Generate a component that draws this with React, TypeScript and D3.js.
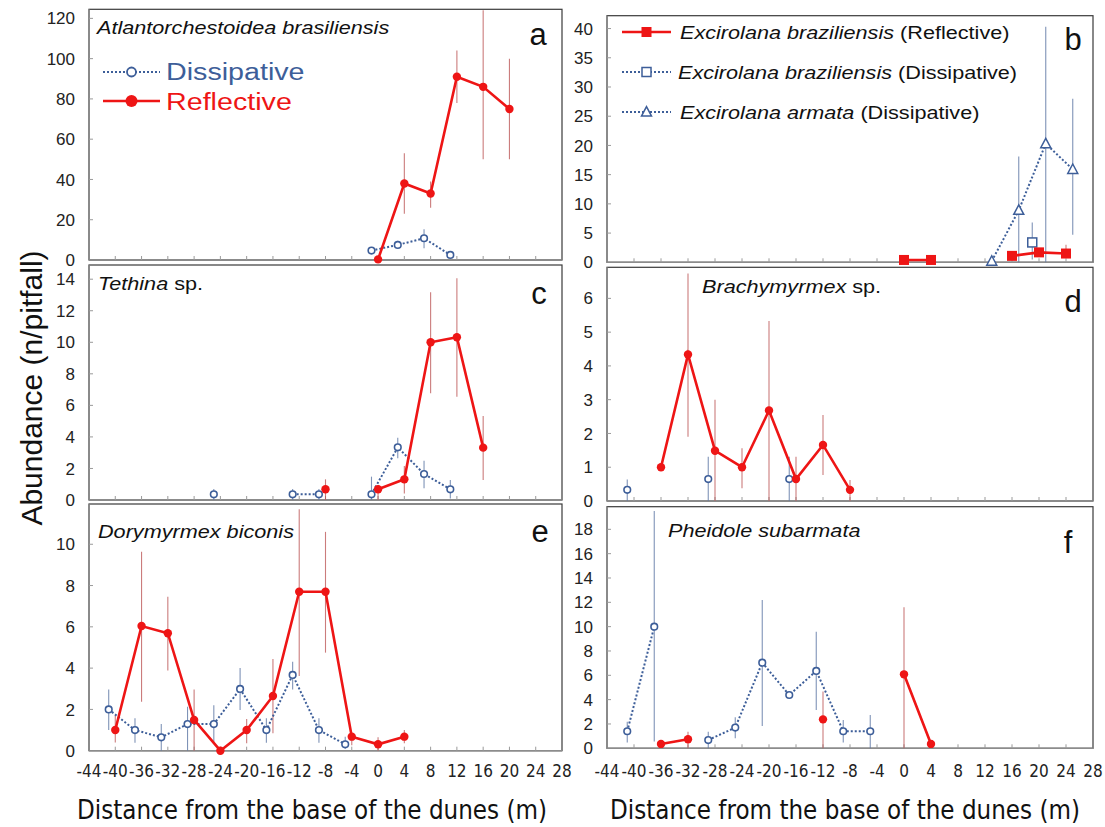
import React from 'react';
import * as d3 from 'd3';

// ---------- shared ----------
const X_TICKS = d3.range(-44, 29, 4);
const X_TITLE = 'Distance from the base of the dunes (m)';
const Y_TITLE = 'Abundance (n/pitfall)';

// ---------- panel a: Atlantorchestoidea brasiliensis ----------
const aReflX = [0, 4, 8, 12, 16, 20];
const aReflY = [0.3, 38, 33, 91, 86, 75];
const aReflHi = [0.3, 53, 39, 104, 124, 100];
const aReflLo = [0.3, 23, 26, 78, 50, 50];
const aDissX = [-1, 3, 7, 11];
const aDissY = [4.7, 7.5, 10.8, 2.5];
const aDissHi = [5.5, 9.5, 15.3, 3.5];
const aDissLo = [4.0, 5.5, 5.8, 1.5];

// ---------- panel b: Excirolana ----------
const bReflX = [0, 4, 8, 12, 16, 20, 24];
const bReflY = [0.4, 0.4, null, null, 1.1, 1.7, 1.5];
const bReflHi = [0.4, 0.4, null, null, 1.6, 2.4, 3.0];
const bReflLo = [0.4, 0.4, null, null, 1.1, 1.7, 1.5];
const bBrazDissX = [19];
const bBrazDissY = [3.4];
const bBrazDissHi = [6.8];
const bBrazDissLo = [0.5];
const bArmDissX = [13, 17, 21, 25];
const bArmDissY = [0.2, 8.9, 20.3, 15.9];
const bArmDissHi = [0.2, 18.1, 40.3, 28];
const bArmDissLo = [0.2, 0, 0, 4.7];

// ---------- panel c: Tethina sp. ----------
const cReflX = [-8, -4, 0, 4, 8, 12, 16];
const cReflY = [0.68, null, 0.68, 1.31, 10.0, 10.32, 3.32];
const cReflHi = [1.31, null, 0.95, 2.16, 13.17, 14.06, 5.33];
const cReflLo = [0, null, 0, 0.42, 6.77, 6.55, 1.27];
const cDissX = [-25, -21, -17, -13, -9, -5, -1, 3, 7, 11];
const cDissY = [0.36, null, null, 0.36, 0.36, null, 0.36, 3.34, 1.65, 0.68];
const cDissHi = [0.7, null, null, 0.7, 0.7, null, 1.48, 3.95, 2.49, 1.27];
const cDissLo = [0, null, null, 0, 0, null, 0, 2.64, 0.74, 0.1];

// ---------- panel d: Brachymyrmex sp. ----------
const dReflX = [-36, -32, -28, -24, -20, -16, -12, -8];
const dReflY = [1.0, 4.34, 1.49, 1.0, 2.68, 0.65, 1.66, 0.33];
const dReflHi = [1.0, 6.74, 3.0, 1.56, 5.33, 1.31, 2.55, 0.62];
const dReflLo = [1.0, 1.9, 0, 0.38, 0, 0, 0.77, 0];
const dDissX = [-41, -37, -33, -29, -25, -21, -17];
const dDissY = [0.33, null, null, 0.65, null, null, 0.65];
const dDissHi = [0.64, null, null, 1.31, null, null, 1.31];
const dDissLo = [0, null, null, 0, null, null, 0];

// ---------- panel e: Dorymyrmex biconis ----------
const eReflX = [-40, -36, -32, -28, -24, -20, -16, -12, -8, -4, 0, 4];
const eReflY = [1.0, 6.04, 5.69, 1.49, 0.0, 1.0, 2.65, 7.7, 7.7, 0.68, 0.31, 0.68];
const eReflHi = [1.7, 9.64, 7.46, 2.97, 0, 1.53, 4.44, 11.7, 10.6, 0.84, 0.65, 1.0];
const eReflLo = [0.4, 2.37, 3.88, 0, 0, 0.36, 0.84, 3.62, 4.75, 0.27, 0, 0.36];
const eDissX = [-41, -37, -33, -29, -25, -21, -17, -13, -9, -5];
const eDissY = [2.0, 1.0, 0.65, 1.29, 1.29, 2.99, 1.0, 3.67, 1.0, 0.31];
const eDissHi = [2.97, 1.57, 1.29, 2.13, 2.2, 4.0, 1.57, 4.31, 1.57, 0.68];
const eDissLo = [1.0, 0.39, 0, 0, 0.36, 1.97, 0.39, 2.97, 0.39, 0.1];

// ---------- panel f: Pheidole subarmata ----------
const fReflX = [-36, -32, -28, -24, -20, -16, -12, -8, -4, 0, 4];
const fReflY = [0.36, 0.74, null, null, null, null, 2.38, null, null, 6.08, 0.36];
const fReflHi = [0.36, 1.37, null, null, null, null, 4.66, null, null, 11.59, 0.36];
const fReflLo = [0.36, 0, null, null, null, null, 0, null, null, 0, 0.36];
const fDissX = [-41, -37, -33, -29, -25, -21, -17, -13, -9, -5];
const fDissY = [1.4, 10.0, null, 0.68, 1.7, 7.04, 4.38, 6.36, 1.4, 1.4];
const fDissHi = [2.19, 19.5, null, 1.37, 2.55, 12.2, 4.38, 9.59, 2.33, 2.74];
const fDissLo = [0.47, 0.55, null, 0, 0.82, 1.84, 4.38, 3.15, 0.47, 0];

// ---------- styling ----------
const RED = '#ee1515';
const RED_ERR = 'rgba(185,80,80,0.75)';
const BLUE = '#3d5e99';
const BLUE_ERR = 'rgba(95,120,165,0.8)';
const FONT = '"Liberation Sans", Arial, sans-serif';
const NARROW = '"Liberation Sans Narrow", "Arial Narrow", "DejaVu Sans Condensed", sans-serif';
const SX = 1.17; // horizontal stretch of the in-panel texts

type Kind = 'refl' | 'diss' | 'reflSq' | 'dissSq' | 'dissTri';
type Series = { kind: Kind; x: number[]; y: (number | null)[]; hi: (number | null)[]; lo: (number | null)[] };
type Title = { parts: { t: string; it: boolean }[]; x: number; y: number };
type PanelCfg = {
  x0: number; x1: number; top: number; bottom: number; ymax: number; yTicks: number[];
  letter: string; lx: number; ly: number; title: Title; series: Series[]; xLabels: boolean;
};

const LEFT = { x0: 89, x1: 562 };
const RIGHT = { x0: 607, x1: 1093 };

const panels: PanelCfg[] = [
  {
    ...LEFT, top: 9.3, bottom: 260, ymax: 124.5, yTicks: d3.range(0, 121, 20),
    letter: 'a', lx: 538, ly: 45,
    title: { parts: [{ t: 'Atlantorchestoidea brasiliensis', it: true }], x: 97, y: 34 },
    series: [
      { kind: 'diss', x: aDissX, y: aDissY, hi: aDissHi, lo: aDissLo },
      { kind: 'refl', x: aReflX, y: aReflY, hi: aReflHi, lo: aReflLo },
    ], xLabels: false,
  },
  {
    ...RIGHT, top: 15.7, bottom: 262.3, ymax: 42.2, yTicks: d3.range(0, 41, 5),
    letter: 'b', lx: 1073, ly: 50,
    title: { parts: [], x: 0, y: 0 },
    series: [
      { kind: 'dissTri', x: bArmDissX, y: bArmDissY, hi: bArmDissHi, lo: bArmDissLo },
      { kind: 'dissSq', x: bBrazDissX, y: bBrazDissY, hi: bBrazDissHi, lo: bBrazDissLo },
      { kind: 'reflSq', x: bReflX, y: bReflY, hi: bReflHi, lo: bReflLo },
    ], xLabels: false,
  },
  {
    ...LEFT, top: 265, bottom: 500, ymax: 14.9, yTicks: d3.range(0, 15, 2),
    letter: 'c', lx: 539, ly: 304,
    title: { parts: [{ t: 'Tethina', it: true }, { t: ' sp.', it: false }], x: 98, y: 290 },
    series: [
      { kind: 'diss', x: cDissX, y: cDissY, hi: cDissHi, lo: cDissLo },
      { kind: 'refl', x: cReflX, y: cReflY, hi: cReflHi, lo: cReflLo },
    ], xLabels: false,
  },
  {
    ...RIGHT, top: 267.3, bottom: 501, ymax: 6.92, yTicks: d3.range(0, 7, 1),
    letter: 'd', lx: 1073, ly: 312,
    title: { parts: [{ t: 'Brachymyrmex', it: true }, { t: ' sp.', it: false }], x: 702, y: 293 },
    series: [
      { kind: 'diss', x: dDissX, y: dDissY, hi: dDissHi, lo: dDissLo },
      { kind: 'refl', x: dReflX, y: dReflY, hi: dReflHi, lo: dReflLo },
    ], xLabels: false,
  },
  {
    ...LEFT, top: 504, bottom: 750.7, ymax: 11.95, yTicks: d3.range(0, 11, 2),
    letter: 'e', lx: 540, ly: 542,
    title: { parts: [{ t: 'Dorymyrmex biconis', it: true }], x: 98, y: 538 },
    series: [
      { kind: 'diss', x: eDissX, y: eDissY, hi: eDissHi, lo: eDissLo },
      { kind: 'refl', x: eReflX, y: eReflY, hi: eReflHi, lo: eReflLo },
    ], xLabels: true,
  },
  {
    ...RIGHT, top: 506.7, bottom: 748.3, ymax: 19.86, yTicks: d3.range(0, 19, 2),
    letter: 'f', lx: 1068, ly: 553,
    title: { parts: [{ t: 'Pheidole subarmata', it: true }], x: 668, y: 537 },
    series: [
      { kind: 'diss', x: fDissX, y: fDissY, hi: fDissHi, lo: fDissLo },
      { kind: 'refl', x: fReflX, y: fReflY, hi: fReflHi, lo: fReflLo },
    ], xLabels: true,
  },
];

const isRed = (k: Kind) => k === 'refl' || k === 'reflSq';

function Marker({ kind, cx, cy, legend }: { kind: Kind; cx: number; cy: number; legend?: boolean }) {
  if (kind === 'refl') return <circle cx={cx} cy={cy} r={legend ? 6 : 4.2} fill={RED} />;
  if (kind === 'diss') return <circle cx={cx} cy={cy} r={legend ? 4.5 : 3.3} fill="#fff" stroke={BLUE} strokeWidth={legend ? 1.8 : 1.6} />;
  if (kind === 'reflSq') { const s = 10; return <rect x={cx - s / 2} y={cy - s / 2} width={s} height={s} fill={RED} />; }
  if (kind === 'dissSq') { const s = 9; return <rect x={cx - s / 2} y={cy - s / 2} width={s} height={s} fill="#fff" stroke={BLUE} strokeWidth={1.5} />; }
  const h = 9, w = 10;
  return <path d={`M${cx},${cy - h * 0.6}L${cx + w / 2},${cy + h * 0.45}L${cx - w / 2},${cy + h * 0.45}Z`} fill="#fff" stroke={BLUE} strokeWidth={1.5} />;
}

function LegendLine({ kind, x1, x2, y }: { kind: Kind; x1: number; x2: number; y: number }) {
  const red = isRed(kind);
  return (
    <g>
      <line x1={x1} x2={x2} y1={y} y2={y} stroke={red ? RED : BLUE} strokeWidth={red ? 2.6 : 2}
        strokeDasharray={red ? undefined : '2 2'} />
      <Marker kind={kind} cx={(x1 + x2) / 2} cy={y} legend />
    </g>
  );
}

function Stretched({ x, y, size, fill, children }: { x: number; y: number; size: number; fill: string; children: React.ReactNode }) {
  return (
    <text transform={`translate(${x},${y}) scale(${SX},1)`} fontSize={size} fill={fill} fontFamily={FONT}>{children}</text>
  );
}

function Panel({ p }: { p: PanelCfg }) {
  const x = d3.scaleLinear().domain([-44, 28]).range([p.x0, p.x1]);
  const y = d3.scaleLinear().domain([0, p.ymax]).range([p.bottom, p.top]);
  const line = d3.line<[number, number | null]>()
    .defined((d) => d[1] != null)
    .x((d) => x(d[0]))
    .y((d) => y(d[1] as number));
  return (
    <g>
      <rect x={p.x0} y={p.top} width={p.x1 - p.x0} height={p.bottom - p.top} fill="#fff" stroke="#3a3a3a" strokeWidth={1.2} />
      <line x1={p.x0} x2={p.x1} y1={p.bottom} y2={p.bottom} stroke="#8c8c8c" strokeWidth={1.4} />
      <line x1={p.x0} x2={p.x0} y1={p.top} y2={p.bottom} stroke="#8c8c8c" strokeWidth={1.4} />
      {X_TICKS.slice(1, -1).map((t) => (
        <line key={t} x1={x(t)} x2={x(t)} y1={p.bottom} y2={p.bottom - 4} stroke="#9a9a9a" strokeWidth={1} />
      ))}
      {p.yTicks.map((t) => (
        <g key={t}>
          {t > 0 && <line x1={p.x0} x2={p.x0 + 4} y1={y(t)} y2={y(t)} stroke="#9a9a9a" strokeWidth={1} />}
          <text x={p.x0 - 14} y={y(t)} dy="0.36em" textAnchor="end" fontSize={17} fill="#222" fontFamily={FONT}>{t}</text>
        </g>
      ))}
      {p.xLabels && X_TICKS.map((t) => (
        <text key={t} x={x(t)} y={777} textAnchor="middle" fontSize={17} fill="#222" fontFamily={NARROW}>{t}</text>
      ))}
      {/* error bars */}
      {p.series.map((s, si) => (
        <g key={'e' + si}>
          {s.x.map((xv, i) => s.y[i] != null && s.hi[i] != null && (s.hi[i] as number) > (s.lo[i] as number) ? (
            <line key={i} x1={x(xv)} x2={x(xv)} y1={y(s.hi[i] as number)} y2={y(s.lo[i] as number)}
              stroke={isRed(s.kind) ? RED_ERR : BLUE_ERR} strokeWidth={1.1} />
          ) : null)}
        </g>
      ))}
      {/* lines */}
      {p.series.map((s, si) => (
        <path key={'l' + si} d={line(s.x.map((xv, i) => [xv, s.y[i]] as [number, number | null])) || ''}
          fill="none" stroke={isRed(s.kind) ? RED : BLUE} strokeWidth={isRed(s.kind) ? 2.6 : 2}
          strokeDasharray={isRed(s.kind) ? undefined : '2 2'} />
      ))}
      {/* markers */}
      {p.series.map((s, si) => (
        <g key={'m' + si}>
          {s.x.map((xv, i) => s.y[i] != null ? <Marker key={i} kind={s.kind} cx={x(xv)} cy={y(s.y[i] as number)} /> : null)}
        </g>
      ))}
      {p.title.parts.length > 0 && (
        <Stretched x={p.title.x} y={p.title.y} size={18.5} fill="#111">
          {p.title.parts.map((pt, i) => <tspan key={i} fontStyle={pt.it ? 'italic' : 'normal'}>{pt.t}</tspan>)}
        </Stretched>
      )}
      <text x={p.lx} y={p.ly} textAnchor="middle" fontSize={31} fill="#111" fontFamily={FONT}>{p.letter}</text>
    </g>
  );
}

export default function App() {
  return (
    <svg width={1105} height={827} style={{ position: 'absolute', left: 0, top: 0, background: '#fff' }}>
      <rect width={1105} height={827} fill="#fff" />
      {panels.map((p, i) => <Panel key={i} p={p} />)}

      {/* legend panel a */}
      <LegendLine kind="diss" x1={103} x2={160} y={72} />
      <Stretched x={166} y={80} size={24.5} fill={BLUE}>Dissipative</Stretched>
      <LegendLine kind="refl" x1={103} x2={160} y={101} />
      <Stretched x={166} y={110} size={24.5} fill={RED}>Reflective</Stretched>

      {/* legend panel b */}
      <LegendLine kind="reflSq" x1={622} x2={671} y={32} />
      <Stretched x={680} y={38.5} size={18.5} fill="#111">
        <tspan fontStyle="italic">Excirolana braziliensis</tspan> (Reflective)
      </Stretched>
      <LegendLine kind="dissSq" x1={622} x2={671} y={72} />
      <Stretched x={678} y={78.5} size={18.5} fill="#111">
        <tspan fontStyle="italic">Excirolana braziliensis</tspan> (Dissipative)
      </Stretched>
      <LegendLine kind="dissTri" x1={622} x2={671} y={112} />
      <Stretched x={680} y={118.5} size={18.5} fill="#111">
        <tspan fontStyle="italic">Excirolana armata</tspan> (Dissipative)
      </Stretched>

      {/* axis titles */}
      <text transform="translate(42,388) rotate(-90)" textAnchor="middle" fontSize={30} fill="#111" fontFamily={FONT}>{Y_TITLE}</text>
      <text x={312} y={819} textAnchor="middle" fontSize={26} fill="#111" fontFamily={NARROW}
        textLength={470} lengthAdjust="spacingAndGlyphs">{X_TITLE}</text>
      <text x={845} y={819} textAnchor="middle" fontSize={26} fill="#111" fontFamily={NARROW}
        textLength={470} lengthAdjust="spacingAndGlyphs">{X_TITLE}</text>
    </svg>
  );
}
